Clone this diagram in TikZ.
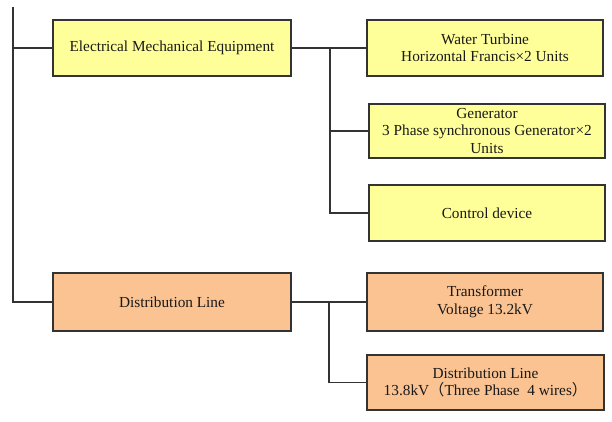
\documentclass[tikz,border=0pt]{standalone}
\usepackage{fontspec}
\setmainfont{Liberation Serif}
\newfontfamily\cjk{Noto Sans CJK SC}
\definecolor{boxyellow}{HTML}{FFFF99}
\definecolor{boxorange}{HTML}{FAC391}
\definecolor{linegray}{HTML}{333333}
\begin{document}
\begin{tikzpicture}[x=1pt,y=-1pt,
  item/.style={draw=linegray,line width=1.2pt,rectangle,align=center,
    inner sep=0pt,font=\fontsize{15.3}{17.5}\selectfont,text=black!90},
  yel/.style={item,fill=boxyellow},
  org/.style={item,fill=boxorange},
  wire/.style={draw=linegray,line width=1.2pt}]
\useasboundingbox (0,0) rectangle (612,421);

% level one
\node[yel,minimum width=238pt,minimum height=56pt] (eme) at (172,48) {Electrical Mechanical Equipment};
\node[org,minimum width=238pt,minimum height=58pt] (dl) at (172,302) {Distribution Line};

% level two, equipment
\node[yel,minimum width=236pt,minimum height=56pt] (wt) at (485,48) {Water Turbine\\Horizontal Francis×2 Units};
\node[yel,minimum width=236pt,minimum height=54pt] (gen) at (487,131) {Generator\\3 Phase synchronous Generator×2\\Units};
\node[yel,minimum width=236pt,minimum height=56pt] (ctrl) at (487,213) {Control device};

% level two, distribution
\node[org,minimum width=236pt,minimum height=58pt] (tr) at (485,302) {Transformer\\Voltage 13.2kV};
\node[org,minimum width=237pt,minimum height=55pt] (dl2) at (485.5,382.5) {Distribution Line\\13.8kV{\cjk（}Three Phase\ \ 4 wires{\cjk）}};

% trunk on the left
\coordinate (trunk) at (13,7);
\draw[wire] (trunk) |- (eme.west);
\draw[wire] (trunk) |- (dl.west);

% equipment bus
\coordinate (bus1) at (330,48);
\draw[wire] (eme.east) -- (wt.west);
\draw[wire] (bus1) |- (gen.west);
\draw[wire] (bus1) |- (ctrl.west);

% distribution bus
\coordinate (bus2) at (329,302);
\draw[wire] (dl.east) -- (tr.west);
\draw[wire] (bus2) |- (dl2.west);
\end{tikzpicture}
\end{document}
